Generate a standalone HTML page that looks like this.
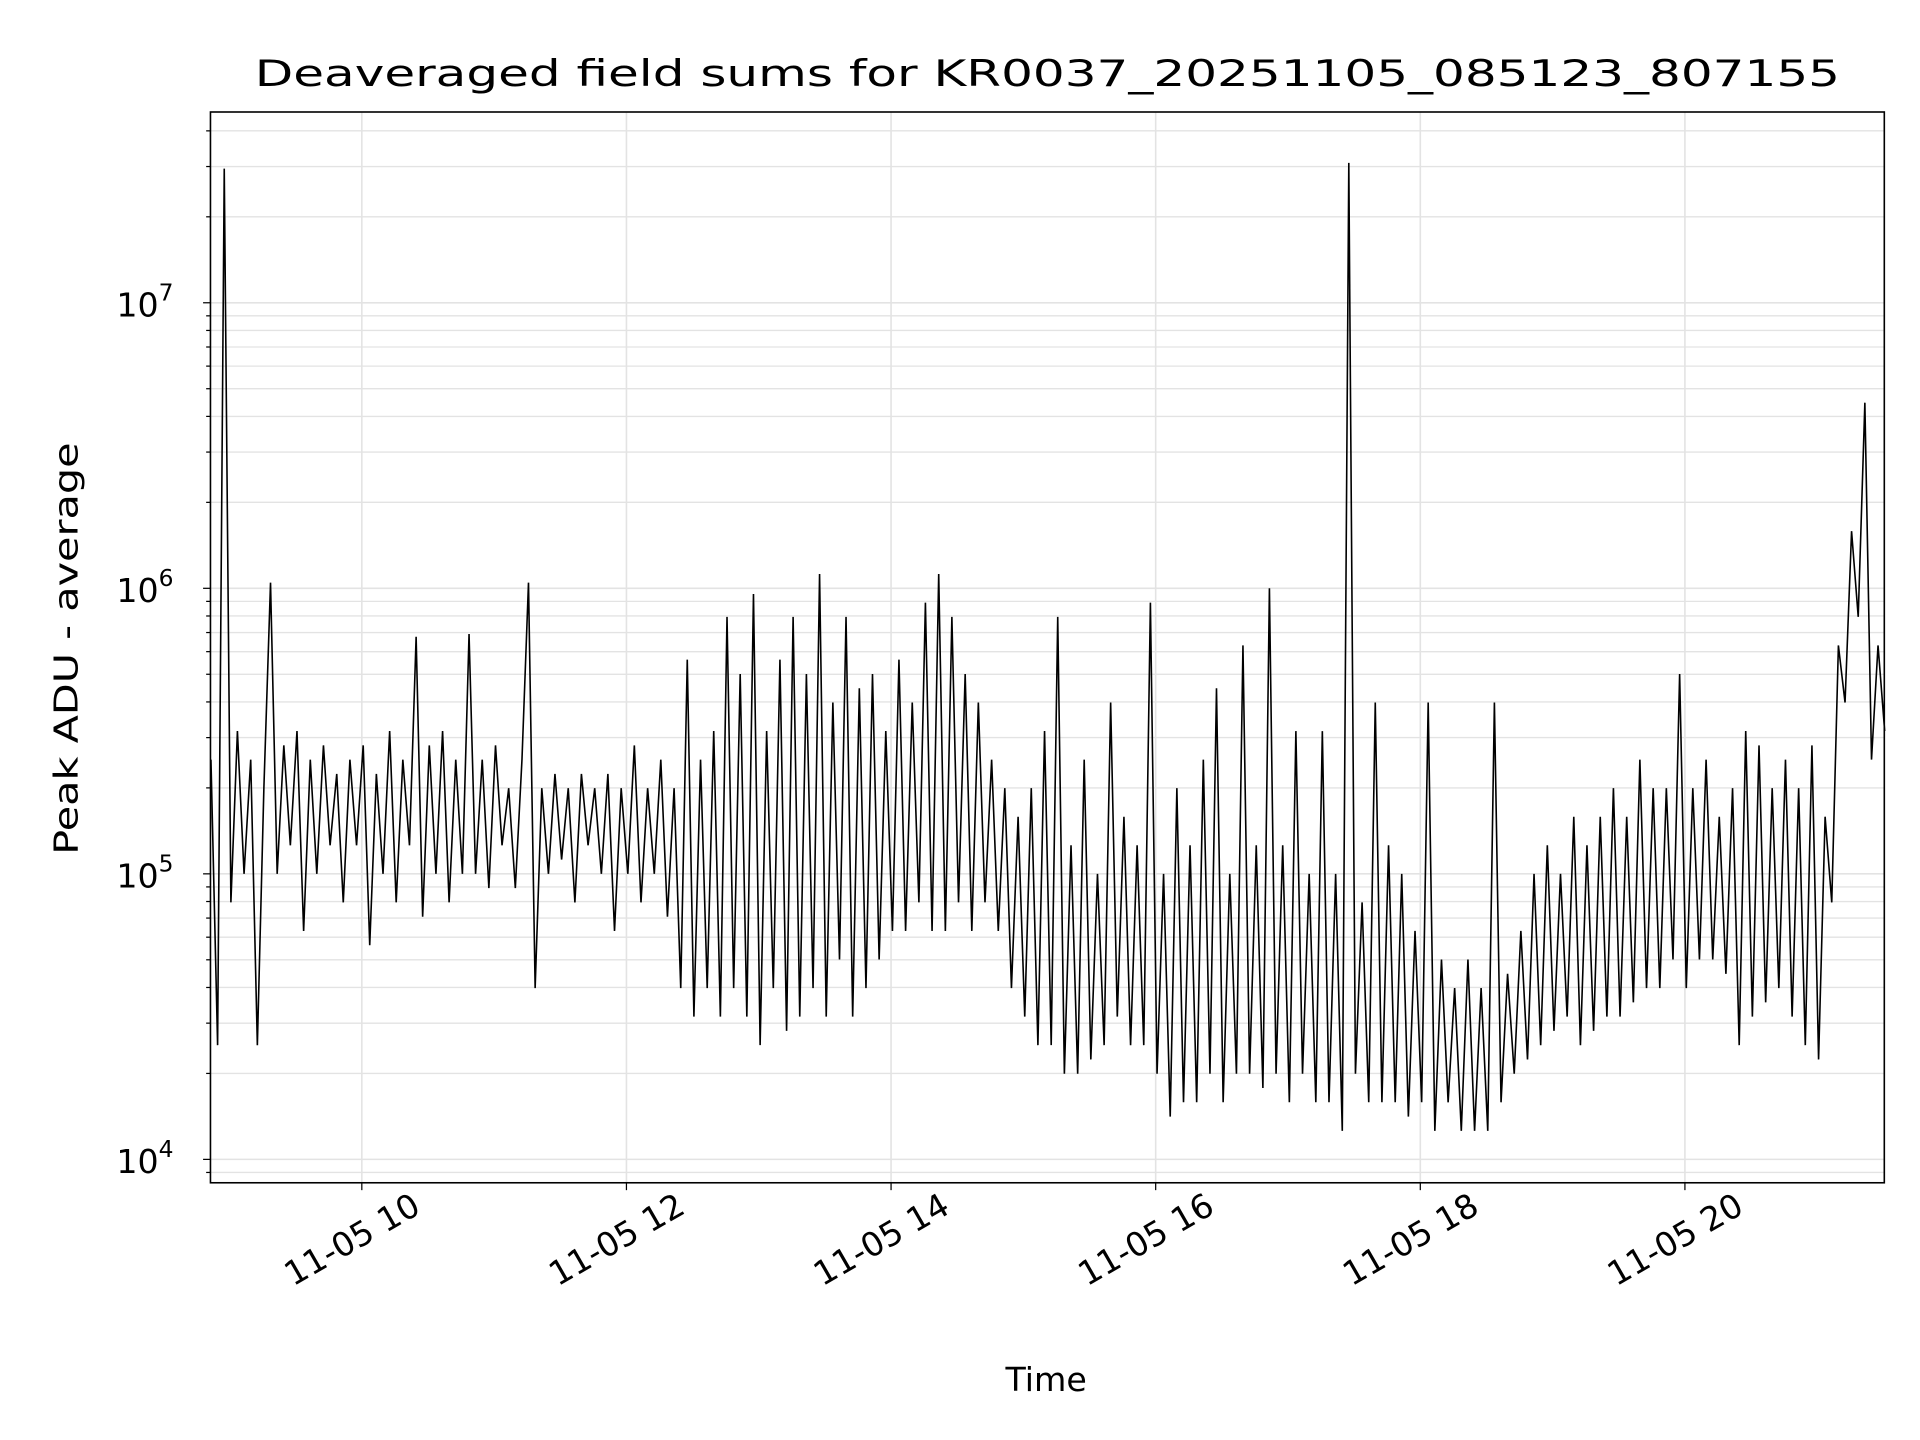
<!DOCTYPE html>
<html><head><meta charset="utf-8"><style>
html,body{margin:0;padding:0;background:#fff;}
svg{display:block;font-family:"DejaVu Sans","Liberation Sans",sans-serif;}
</style></head><body>
<svg id="chart" width="1920" height="1440" viewBox="0 0 1560 1170" xmlns="http://www.w3.org/2000/svg">
<rect width="1560" height="1170" fill="#fff"/>
<g id="grid"></g>
<g id="series"></g>
<rect x="171" y="91" width="1360" height="870" fill="none" stroke="#000" stroke-width="1.3"/>
<g id="axes"></g>
<text x="851" y="70" font-size="30" text-anchor="middle" textLength="1288" lengthAdjust="spacingAndGlyphs">Deaveraged field sums for KR0037_20251105_085123_807155</text>
<text x="850" y="1130" font-size="27" text-anchor="middle">Time</text>
<text transform="translate(63,527) rotate(-90)" font-size="27" text-anchor="middle" textLength="335" lengthAdjust="spacingAndGlyphs">Peak ADU - average</text>
</svg>
<script>
const tStart = 8.86;
const tStep = 0.05;
const xTickHours = [10, 12, 14, 16, 18, 20];
const xTickLabels = ["11-05 10", "11-05 12", "11-05 14", "11-05 16", "11-05 18", "11-05 20"];
const yTickExps = [4, 5, 6, 7];
const logValues = [
5.4,4.4,7.47,4.9,5.5,5.0,5.4,4.4,5.3,6.02,
5.0,5.45,5.1,5.5,4.8,5.4,5.0,5.45,5.1,5.35,
4.9,5.4,5.1,5.45,4.75,5.35,5.0,5.5,4.9,5.4,
5.1,5.83,4.85,5.45,5.0,5.5,4.9,5.4,5.0,5.84,
5.0,5.4,4.95,5.45,5.1,5.3,4.95,5.4,6.02,4.6,
5.3,5.0,5.35,5.05,5.3,4.9,5.35,5.1,5.3,5.0,
5.35,4.8,5.3,5.0,5.45,4.9,5.3,5.0,5.4,4.85,
5.3,4.6,5.75,4.5,5.4,4.6,5.5,4.5,5.9,4.6,
5.7,4.5,5.98,4.4,5.5,4.6,5.75,4.45,5.9,4.5,
5.7,4.6,6.05,4.5,5.6,4.7,5.9,4.5,5.65,4.6,
5.7,4.7,5.5,4.8,5.75,4.8,5.6,4.9,5.95,4.8,
6.05,4.8,5.9,4.9,5.7,4.8,5.6,4.9,5.4,4.8,
5.3,4.6,5.2,4.5,5.3,4.4,5.5,4.4,5.9,4.3,
5.1,4.3,5.4,4.35,5.0,4.4,5.6,4.5,5.2,4.4,
5.1,4.4,5.95,4.3,5.0,4.15,5.3,4.2,5.1,4.2,
5.4,4.3,5.65,4.2,5.0,4.3,5.8,4.3,5.1,4.25,
6.0,4.3,5.1,4.2,5.5,4.3,5.0,4.2,5.5,4.2,
5.0,4.1,7.49,4.3,4.9,4.2,5.6,4.2,5.1,4.2,
5.0,4.15,4.8,4.2,5.6,4.1,4.7,4.2,4.6,4.1,
4.7,4.1,4.6,4.1,5.6,4.2,4.65,4.3,4.8,4.35,
5.0,4.4,5.1,4.45,5.0,4.5,5.2,4.4,5.1,4.45,
5.2,4.5,5.3,4.5,5.2,4.55,5.4,4.6,5.3,4.6,
5.3,4.7,5.7,4.6,5.3,4.7,5.4,4.7,5.2,4.65,
5.3,4.4,5.5,4.5,5.45,4.55,5.3,4.6,5.4,4.5,
5.3,4.4,5.45,4.35,5.2,4.9,5.8,5.6,6.2,5.9,
6.65,5.4,5.8,5.5
];
const NS = "http://www.w3.org/2000/svg";
const X0 = 171, X1 = 1531, Y0 = 91, Y1 = 961;
const hMin = 8.856, hMax = 21.507;
const xs = h => X0 + (h - hMin) / (hMax - hMin) * (X1 - X0);
const ys = lg => 942 - (lg - 4) * 232;
function mk(tag, attrs, parent) {
  const e = document.createElementNS(NS, tag);
  for (const k in attrs) e.setAttribute(k, attrs[k]);
  parent.appendChild(e);
  return e;
}
const grid = document.getElementById('grid');
const axes = document.getElementById('axes');
const series = document.getElementById('series');
for (let d = 3; d <= 7; d++) {
  for (let m = 1; m <= 9; m++) {
    const y = ys(d + Math.log10(m));
    if (y < Y0 || y > Y1) continue;
    const g = mk('line', {x1: X0, x2: X1, y1: y, y2: y, stroke: '#e3e3e3', 'stroke-width': m === 1 ? 1.3 : 1.1}, grid);
    
    
    const t = mk('line', {x1: X0, x2: X0 - (m === 1 ? 6 : 3.5), y1: y, y2: y, stroke: '#000', 'stroke-width': 1}, axes);
    
    
  }
}
yTickExps.forEach(e => {
  const y = ys(e);
  const tx = mk('text', {x: 141, y: y + 11, 'font-size': 27, 'text-anchor': 'end'}, axes);
  
  
  tx.textContent = '10';
  const sp = mk('tspan', {dy: -13, 'font-size': 19}, tx);
  sp.textContent = String(e);
});
xTickHours.forEach((h, i) => {
  const x = xs(h);
  const g = mk('line', {x1: x, x2: x, y1: Y0, y2: Y1, stroke: '#e3e3e3', 'stroke-width': 1.3}, grid);
  
  
  const t = mk('line', {x1: x, x2: x, y1: Y1, y2: Y1 + 6, stroke: '#000', 'stroke-width': 1}, axes);
  
  
  const tx = mk('text', {transform: `translate(${x - 8},${Y1 + 46}) rotate(-30)`, 'font-size': 27, 'text-anchor': 'middle', 'dominant-baseline': 'central'}, axes);
  
  
  tx.textContent = xTickLabels[i];
});
const pts = logValues.map((v, i) => xs(tStart + i * tStep).toFixed(1) + ',' + ys(v).toFixed(1)).join(' ');
const pl = mk('polyline', {points: pts, fill: 'none', stroke: '#000', 'stroke-width': 1.3, 'stroke-linejoin': 'miter'}, series);


</script>
</body></html>
